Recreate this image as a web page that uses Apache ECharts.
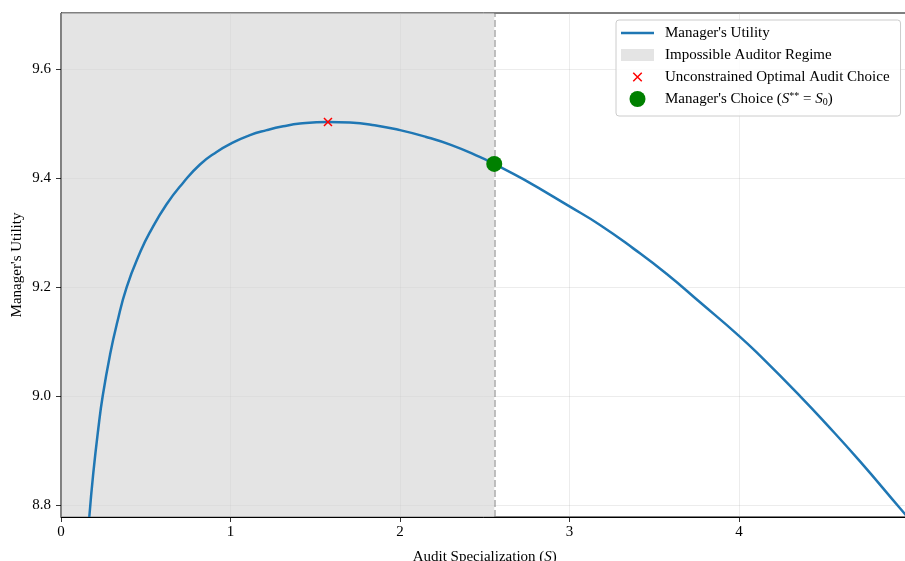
<!DOCTYPE html>
<html><head><meta charset="utf-8">
<script src="https://cdn.jsdelivr.net/npm/echarts@6/dist/echarts.min.js"></script>
<style>html,body{margin:0;padding:0;background:#fff;overflow:hidden}#c{width:905px;height:561px}</style>
</head><body><div id="c"></div>
<script>
// ---- data ----
const sValues = [0.167, 0.19, 0.22, 0.246, 0.29, 0.33, 0.3876, 0.47, 0.525, 0.623, 0.722, 0.82, 0.918, 1.0, 1.115, 1.214, 1.311, 1.41, 1.573, 1.705, 1.85, 2.0, 2.15, 2.3, 2.47, 2.556, 2.727, 3.0, 3.18, 3.376, 3.574, 3.77, 3.998, 4.124, 4.36, 4.517, 4.714, 4.95, 5.0];
const utility = [8.778, 8.857, 8.940, 9.000, 9.077, 9.133, 9.200, 9.266, 9.301, 9.352, 9.392, 9.425, 9.448, 9.463, 9.479, 9.488, 9.495, 9.500, 9.503, 9.502, 9.497, 9.488, 9.476, 9.461, 9.439, 9.426, 9.398, 9.348, 9.314, 9.271, 9.224, 9.172, 9.111, 9.074, 9.000, 8.948, 8.880, 8.794, 8.776];
const optimalS = [1.575];
const optimalU = [9.503];
const choiceS = [2.556];
const choiceU = [9.426];
const boundaryS = 2.556;
const xTicks = [0, 1, 2, 3, 4];
const yTicks = [8.8, 9.0, 9.2, 9.4, 9.6];
const xRange = [0, 5];
const yRange = [8.778, 9.703];
const names = ["Manager's Utility", "Impossible Auditor Regime", "Unconstrained Optimal Audit Choice", "Manager's Choice"];

const FONT = "'Liberation Serif', 'Times New Roman', serif";
const chart = echarts.init(document.getElementById('c'), null, {renderer: 'canvas'});

const curve = sValues.map((s, i) => [s, utility[i]]);
const optPts = optimalS.map((s, i) => [s, optimalU[i]]);
const choicePts = choiceS.map((s, i) => [s, choiceU[i]]);

const X_ICON = 'path://M0,0M33,16M12.78,3.22L21.28,11.72L20.22,12.78L11.72,4.28ZM21.28,4.28L12.78,12.78L11.72,11.72L20.22,3.22Z';

const option = {
  animation: false,
  backgroundColor: '#fff',
  textStyle: {fontFamily: FONT},
  grid: {left: 61, top: 13, width: 847.5, height: 504, show: true, borderColor: '#000', borderWidth: 1,
    backgroundColor: 'transparent', containLabel: false, outerBoundsMode: 'none'},
  xAxis: {
    type: 'value', min: xRange[0], max: xRange[1], interval: 1,
    name: 'Audit Specialization ({it|S})', nameLocation: 'middle', nameGap: 33,
    nameTextStyle: {fontFamily: FONT, fontSize: 15, color: '#000', rich: {it: {fontFamily: FONT, fontStyle: 'italic', fontSize: 15, color: '#000'}}},
    axisLine: {show: true, onZero: false, lineStyle: {color: '#000', width: 1}},
    axisTick: {show: true, inside: false, length: 5, lineStyle: {color: '#000', width: 0.8}},
    axisLabel: {show: true, color: '#000', fontFamily: FONT, fontSize: 15, margin: 8, showMaxLabel: false,
      formatter: v => xTicks.indexOf(v) >= 0 ? String(v) : ''},
    splitLine: {show: true, lineStyle: {color: 'rgba(176,176,176,0.3)', width: 0.8}}
  },
  yAxis: {
    type: 'value', min: yRange[0], max: yRange[1],
    name: "Manager's Utility", nameLocation: 'middle', nameGap: 36, nameMoveOverlap: false,
    nameTextStyle: {fontFamily: FONT, fontSize: 15, color: '#000'},
    axisLine: {show: true, lineStyle: {color: '#000', width: 1}},
    axisTick: {show: true, inside: false, length: 5, customValues: yTicks, lineStyle: {color: '#000', width: 0.8}},
    axisLabel: {show: true, color: '#000', fontFamily: FONT, fontSize: 15, margin: 10, customValues: yTicks,
      formatter: v => v.toFixed(1)},
    splitLine: {show: true, lineStyle: {color: 'rgba(176,176,176,0.3)', width: 0.8}}
  },
  legend: {
    orient: 'vertical', left: 616, top: 20,
    padding: [5, 11, 9, 5], itemGap: 6, itemWidth: 33, itemHeight: 16,
    backgroundColor: 'rgba(255,255,255,0.85)', borderColor: '#cccccc', borderWidth: 1, borderRadius: 3,
    textStyle: {fontFamily: FONT, fontSize: 15, color: '#000', padding: [0, 0, 0, 6], lineHeight: 16,
      rich: {
        it: {fontFamily: FONT, fontStyle: 'italic', fontSize: 15, color: '#000', lineHeight: 16},
        sup: {fontFamily: FONT, fontSize: 10, color: '#000', verticalAlign: 'top', lineHeight: 16},
        sub: {fontFamily: FONT, fontSize: 10, color: '#000', verticalAlign: 'bottom', lineHeight: 16}
      }},
    formatter: function (name) {
      if (name === names[3]) return "Manager's Choice ({it|S}{sup|**} = {it|S}{sub|0})";
      return name;
    },
    data: [
      {name: names[0], icon: 'path://M0,0M33,16M0,6.75H33V9.25H0Z', itemStyle: {color: '#1f77b4', borderWidth: 0}},
      {name: names[1], icon: 'path://M0,0M33,16M0,2H33V14H0Z', itemStyle: {color: '#e4e4e4', borderWidth: 0}},
      {name: names[2], icon: X_ICON, itemStyle: {color: 'red', borderWidth: 0, opacity: 1}},
      {name: names[3], icon: 'circle', itemStyle: {color: 'green', opacity: 1, borderWidth: 0}}
    ]
  },
  series: [
    {
      name: names[1], type: 'line', data: [], color: '#e4e4e4', silent: true, z: 1,
      markArea: {silent: true, itemStyle: {color: 'rgba(211,211,211,0.62)'}, data: [[{xAxis: xRange[0]}, {xAxis: boundaryS}]]},
      markLine: {silent: true, symbol: 'none', label: {show: false},
        lineStyle: {color: 'rgba(128,128,128,0.5)', type: [7, 3], width: 2},
        data: [{xAxis: boundaryS}]}
    },
    {
      name: names[0], type: 'line', data: curve, smooth: 0.5, showSymbol: false, symbol: 'none', z: 3,
      clip: true, color: '#1f77b4', lineStyle: {color: '#1f77b4', width: 2.5}
    },
    {
      name: names[2], type: 'scatter', data: optPts, z: 4,
      symbol: 'path://M0,0L10,10M10,0L0,10', symbolSize: 8,
      itemStyle: {color: 'none', borderColor: 'red', borderWidth: 1.5, opacity: 1}, color: 'red'
    },
    {
      name: names[3], type: 'scatter', data: choicePts, z: 5,
      symbol: 'circle', symbolSize: 16, itemStyle: {color: 'green', opacity: 1}, color: 'green'
    }
  ]
};
chart.setOption(option);
</script>
</body></html>
